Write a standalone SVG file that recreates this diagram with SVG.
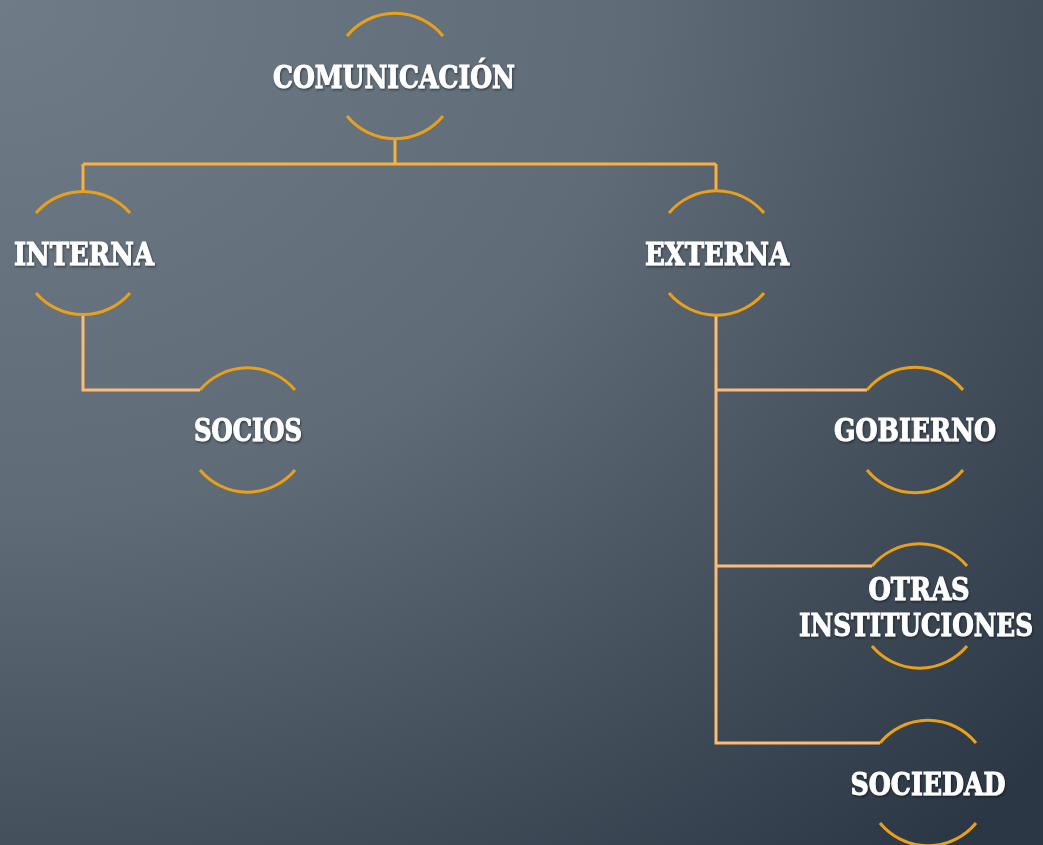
<svg xmlns="http://www.w3.org/2000/svg" width="1043" height="845" viewBox="0 0 1043 845">
<defs>
<radialGradient id="bg" cx="0" cy="0" r="1.35" gradientUnits="objectBoundingBox">
<stop offset="0" stop-color="#6f7c87"/>
<stop offset="0.45" stop-color="#5f6b76"/>
<stop offset="1" stop-color="#2c3745"/>
</radialGradient>
<filter id="sh" x="-3%" y="-20%" width="106%" height="140%">
<feDropShadow dx="1" dy="1.5" stdDeviation="1" flood-color="#000" flood-opacity="0.45"/>
</filter>
</defs>
<style>
.arc{fill:none;stroke:#E9A01A;stroke-width:3}
.c1{fill:none;stroke:#FBB03B;stroke-width:3}
.c2{fill:none;stroke:#FDBB74;stroke-width:3}
.t{font-family:"DejaVu Serif","Liberation Serif",serif;font-weight:bold;font-size:31px;fill:#fff;stroke:#fff;stroke-width:1;text-anchor:middle;filter:url(#sh)}
</style>
<rect width="1043" height="845" fill="url(#bg)"/>
<g id="connectors">
<path class="c1" d="M395 138V164M83 164H716M83 164V191M716 164V192"/>
<path class="c2" d="M83 316V390H200"/>
<path class="c2" d="M716 316V743H880M716 390H867M716 566H872"/>
</g>
<g id="comunicacion">
<path class="arc" d="M347 36A62 62 0 0 1 443 36"/>
<path class="arc" d="M347 116A62 62 0 0 0 443 116"/>
<text class="t" x="394" y="88" textLength="242" lengthAdjust="spacingAndGlyphs">COMUNICACIÓN</text>
</g>
<g id="interna">
<path class="arc" d="M36 213A62 62 0 0 1 130 213"/>
<path class="arc" d="M36 293A62 62 0 0 0 130 293"/>
<text class="t" x="84" y="265" textLength="140" lengthAdjust="spacingAndGlyphs">INTERNA</text>
</g>
<g id="externa">
<path class="arc" d="M669 213A62 62 0 0 1 764 213"/>
<path class="arc" d="M669 293A62 62 0 0 0 764 293"/>
<text class="t" x="717" y="265" textLength="144" lengthAdjust="spacingAndGlyphs">EXTERNA</text>
</g>
<g id="socios">
<path class="arc" d="M200 390A62 62 0 0 1 295 390"/>
<path class="arc" d="M200 470A62 62 0 0 0 295 470"/>
<text class="t" x="248" y="441" textLength="108" lengthAdjust="spacingAndGlyphs">SOCIOS</text>
</g>
<g id="gobierno">
<path class="arc" d="M867 390A62 62 0 0 1 963 390"/>
<path class="arc" d="M867 470A62 62 0 0 0 963 470"/>
<text class="t" x="915" y="441" textLength="162" lengthAdjust="spacingAndGlyphs">GOBIERNO</text>
</g>
<g id="otras">
<path class="arc" d="M872 566A62 62 0 0 1 967 566"/>
<path class="arc" d="M872 646A62 62 0 0 0 967 646"/>
<text class="t" x="919" y="600" textLength="101" lengthAdjust="spacingAndGlyphs">OTRAS</text>
<text class="t" transform="translate(916 636) scale(0.81 1)" x="0" y="0" textLength="289" lengthAdjust="spacingAndGlyphs">INSTITUCIONES</text>
</g>
<g id="sociedad">
<path class="arc" d="M880 743A62 62 0 0 1 976 743"/>
<path class="arc" d="M880 823A62 62 0 0 0 976 823"/>
<text class="t" x="928" y="795" textLength="155" lengthAdjust="spacingAndGlyphs">SOCIEDAD</text>
</g>
</svg>
